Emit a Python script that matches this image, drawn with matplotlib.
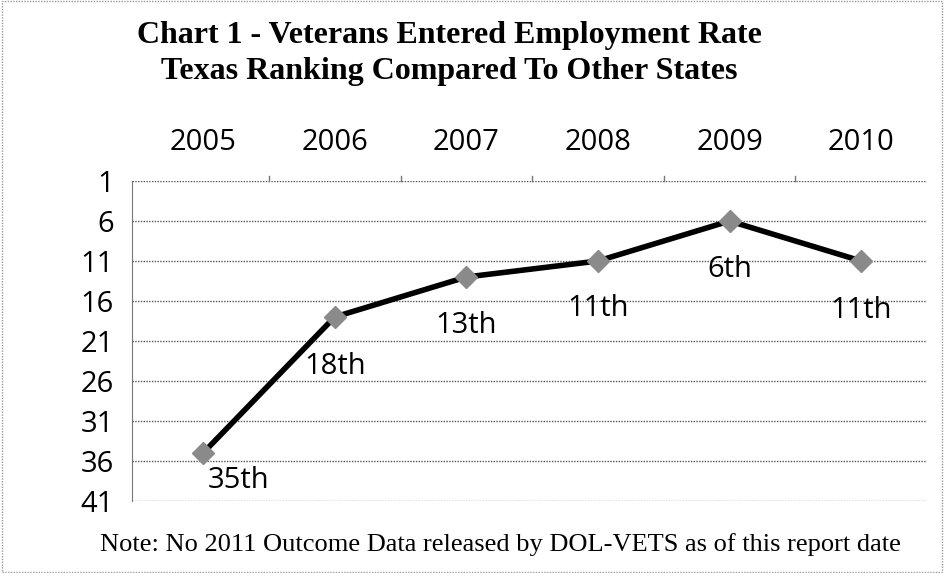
import matplotlib
matplotlib.use("Agg")
import matplotlib.pyplot as plt
from matplotlib.patches import Rectangle

years = ["2005", "2006", "2007", "2008", "2009", "2010"]
ranks = [35, 18, 13, 11, 6, 11]
labels = ["35th", "18th", "13th", "11th", "6th", "11th"]
yticks = [1, 6, 11, 16, 21, 26, 31, 36, 41]

fig = plt.figure(figsize=(9.44, 5.73), dpi=100)
fig.patch.set_facecolor("white")
ax = fig.add_axes([132/944, 1-501/573, (927-132)/944, (501-181)/573])
ax.set_facecolor("white")

x = list(range(len(years)))
ax.plot(x, ranks, color="black", lw=4, marker="D", ms=11,
        markerfacecolor="#8a8a8a", markeredgecolor="#8a8a8a", zorder=3)

ax.set_xlim(-0.54, 5.5)
ax.set_ylim(41, 1)
ax.set_yticks(yticks)
ax.set_yticklabels([str(v) for v in yticks], fontsize=21, family="Open Sans")
ax.xaxis.tick_top()
ax.set_xticks(x)
ax.set_xticklabels(years, fontsize=21, family="Open Sans")
ax.tick_params(axis="x", length=0, pad=17)
ax.tick_params(axis="y", length=0, pad=13)
for v in yticks:
    ax.axhline(v, color="#555555", lw=1.0, ls=(0, (1, 1)), zorder=1)
for s in ["top", "right", "bottom"]:
    ax.spines[s].set_visible(False)
ax.spines["left"].set_color("#777777")
ax.spines["left"].set_linestyle((0, (1, 1)))
# small tick marks at category boundaries
for b in [0.5, 1.5, 2.5, 3.5, 4.5]:
    ax.plot([b, b], [1, 0.4], color="#777777", lw=1, clip_on=False)

offsets = [(0.27, 3.5), (0.0, 6.2), (0.0, 6.1), (0.0, 6.0), (0.0, 6.1), (0.0, 6.2)]
for xi, r, lab, (dx, dy) in zip(x, ranks, labels, offsets):
    ax.text(xi + dx, r + dy, lab, ha="center", va="center", fontsize=21,
            family="Open Sans", zorder=4)

fig.text(449/944, 1-35/573, "Chart 1 - Veterans Entered Employment Rate",
         ha="center", va="center", fontsize=23, fontweight="bold",
         family="Liberation Serif")
fig.text(449/944, 1-72/573, "Texas Ranking Compared To Other States",
         ha="center", va="center", fontsize=23, fontweight="bold",
         family="Liberation Serif")
fig.text(500/944, 1-545/573,
         "Note: No 2011 Outcome Data released by DOL-VETS as of this report date",
         ha="center", va="center", fontsize=19, family="Liberation Serif")

fig.patches.append(Rectangle((0.002, 0.002), 0.996, 0.996, transform=fig.transFigure,
                             fill=False, edgecolor="#999999", lw=1, ls=(0, (1, 1))))

fig.savefig("out.png", dpi=100)
